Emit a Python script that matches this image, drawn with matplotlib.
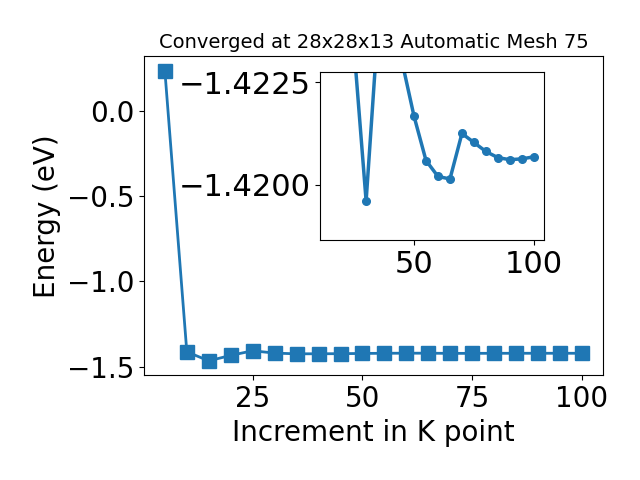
import matplotlib
matplotlib.use('Agg')
import matplotlib.pyplot as plt

# K point increments and total energies (eV)
kpoints = [5, 10, 15, 20, 25, 30, 35, 40, 45, 50, 55, 60, 65, 70, 75, 80, 85, 90, 95, 100]
energy = [0.234, -1.412, -1.465, -1.433, -1.406, -1.4196, -1.4239, -1.4235, -1.4230, -1.42167,
          -1.42059, -1.42020, -1.42014, -1.42125, -1.42103, -1.42081, -1.42066, -1.42061, -1.42063, -1.42068]

# zoomed view (from 15 onward)
inset_k = [15, 20, 25, 30, 35, 40, 45, 50, 55, 60, 65, 70, 75, 80, 85, 90, 95, 100]
inset_energy = [-1.465, -1.433, -1.4233, -1.4196, -1.4239, -1.4235, -1.4230, -1.42167,
                -1.42059, -1.42020, -1.42014, -1.42125, -1.42103, -1.42081, -1.42066, -1.42061, -1.42063, -1.42068]

fig = plt.figure(figsize=(6.4, 4.8), dpi=100)
ax = fig.add_axes([0.225, 0.218, 0.717, 0.665])
ax.plot(kpoints, energy, marker='s', markersize=10, linewidth=2, color='tab:blue')
ax.set_xlabel('Increment in K point', fontsize=20)
ax.set_ylabel('Energy (eV)', fontsize=20)
ax.tick_params(labelsize=20)
ax.set_xticks([25, 50, 75, 100])
ax.set_title('Converged at 28x28x13 Automatic Mesh 75', fontsize=14)

# inset
axin = fig.add_axes([0.5, 0.5, 0.35, 0.35])
axin.plot(inset_k, inset_energy, marker='o', markersize=5.5, linewidth=2.5, color='tab:blue')
axin.set_ylim(-1.41865, -1.42275)
axin.set_yticks([-1.4225, -1.4200])
axin.set_xticks([50, 100])
axin.tick_params(labelsize=22)

fig.savefig('out.png', dpi=100)
